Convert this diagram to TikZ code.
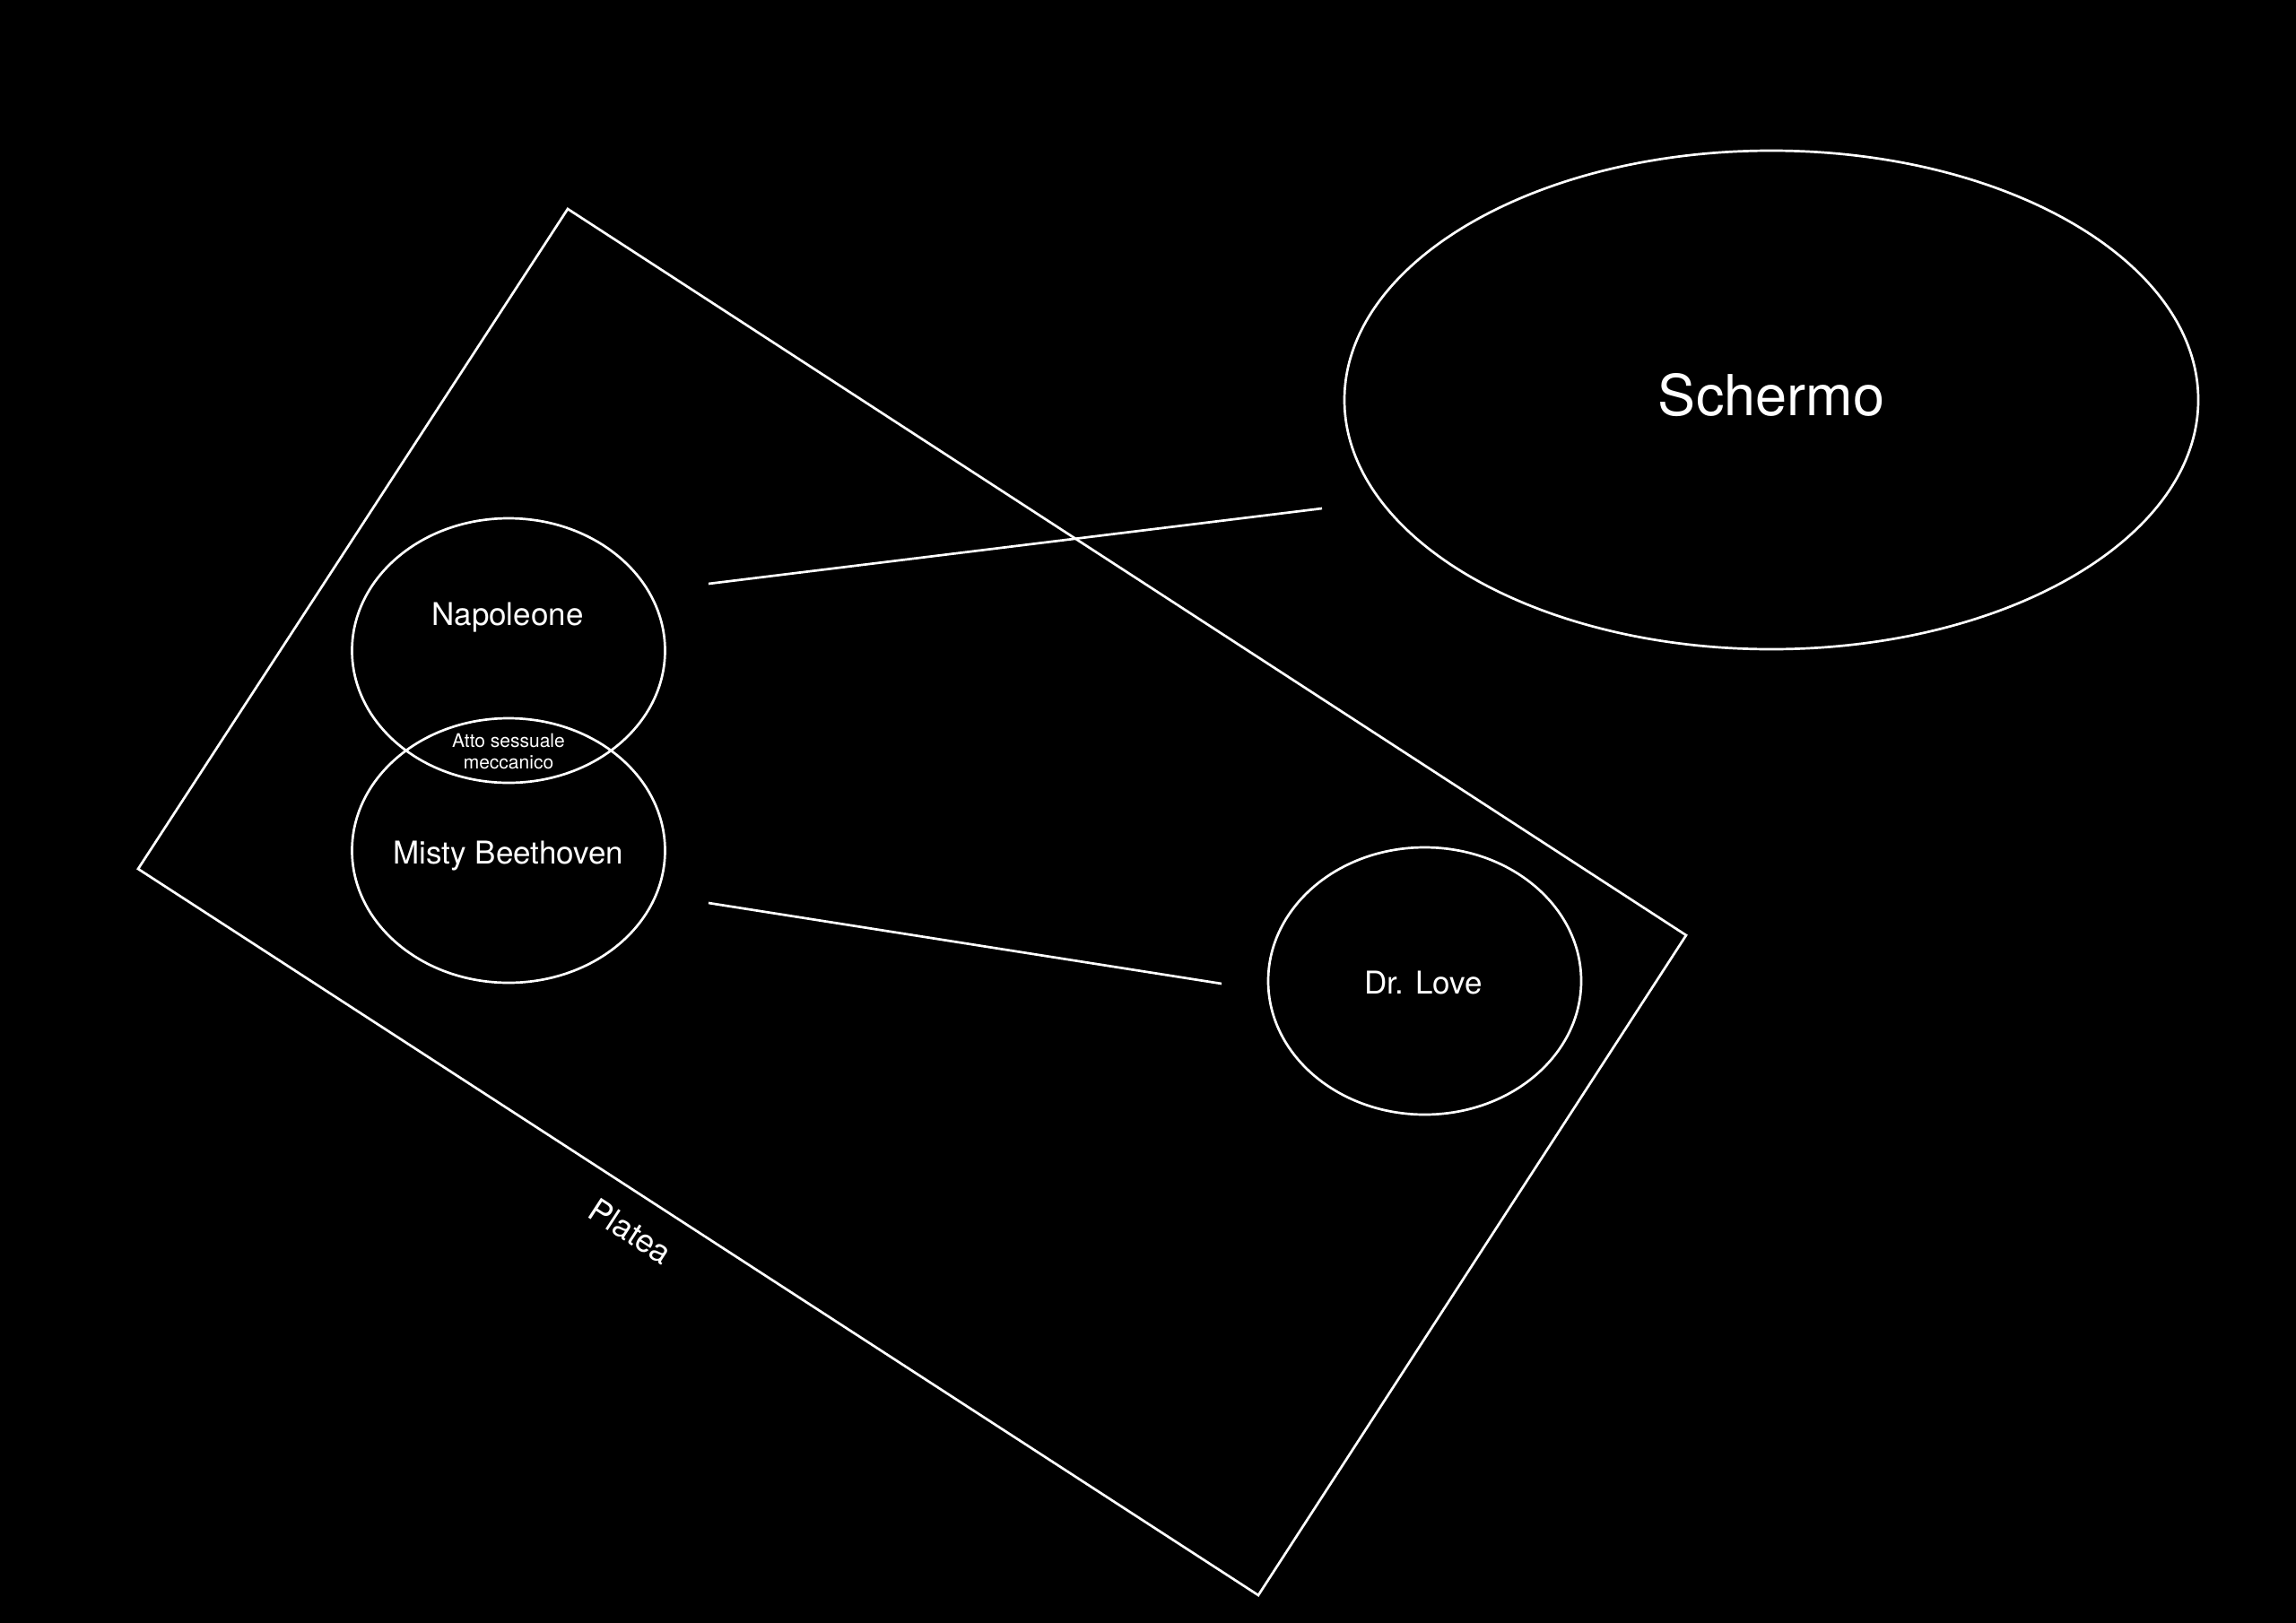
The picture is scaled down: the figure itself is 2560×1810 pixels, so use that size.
\documentclass[tikz,border=0pt]{standalone}
\usepackage{fontspec}
\setmainfont{TeX Gyre Heros}
\usetikzlibrary{shapes.geometric}
\begin{document}
\begin{tikzpicture}[x=1pt,y=-1pt,
  oval/.style={draw=white, line width=2.7pt, ellipse, inner sep=0pt},
  wire/.style={draw=white, line width=2.7pt},
  lbl/.style={text=white, inner sep=0pt, anchor=base, font=\fontsize{35}{42}\selectfont},
  small/.style={text=white, inner sep=0pt, align=center, font=\fontsize{21}{24}\selectfont}]
\fill[black] (0,0) rectangle (2560,1810);
\useasboundingbox (0,0) rectangle (2560,1810);
% Platea frame
\coordinate (pt) at (633,233);
\coordinate (pr) at (1880,1043);
\coordinate (pb) at (1403,1779);
\coordinate (pl) at (154,969);
\draw[wire, line join=miter] (pt) -- (pr) -- (pb) -- (pl) -- cycle;
\node[text=white, inner sep=0pt, rotate=-33, font=\fontsize{36}{42}\selectfont] (platea) at (703,1373) {Platea};
% ellipses
\node[oval, minimum width=952pt, minimum height=556pt] (schermo) at (1975,446) {};
\node[oval, minimum width=349pt, minimum height=295pt] (napoleone) at (567,725.5) {};
\node[oval, minimum width=349pt, minimum height=295pt] (misty) at (567,948.5) {};
\node[oval, minimum width=349pt, minimum height=298pt] (drlove) at (1588.5,1094) {};
% labels
\node[lbl, font=\fontsize{63}{70}\selectfont] (tschermo) at (1975,463) {Schermo};
\node[lbl] (tnap) at (566,697) {Napoleone};
\node[lbl] (tmisty) at (567,963) {Misty Beethoven};
\node[lbl] (tlove) at (1587,1108) {Dr. Love};
\node[small, anchor=base] (tatto) at (567,857) {Atto sessuale\\meccanico};
% connectors
\coordinate (a1) at (790,651);
\coordinate (a2) at (1474,567);
\coordinate (b1) at (790,1007);
\coordinate (b2) at (1362,1097);
\draw[wire] (a1) -- (a2);
\draw[wire] (b1) -- (b2);
\end{tikzpicture}
\end{document}
